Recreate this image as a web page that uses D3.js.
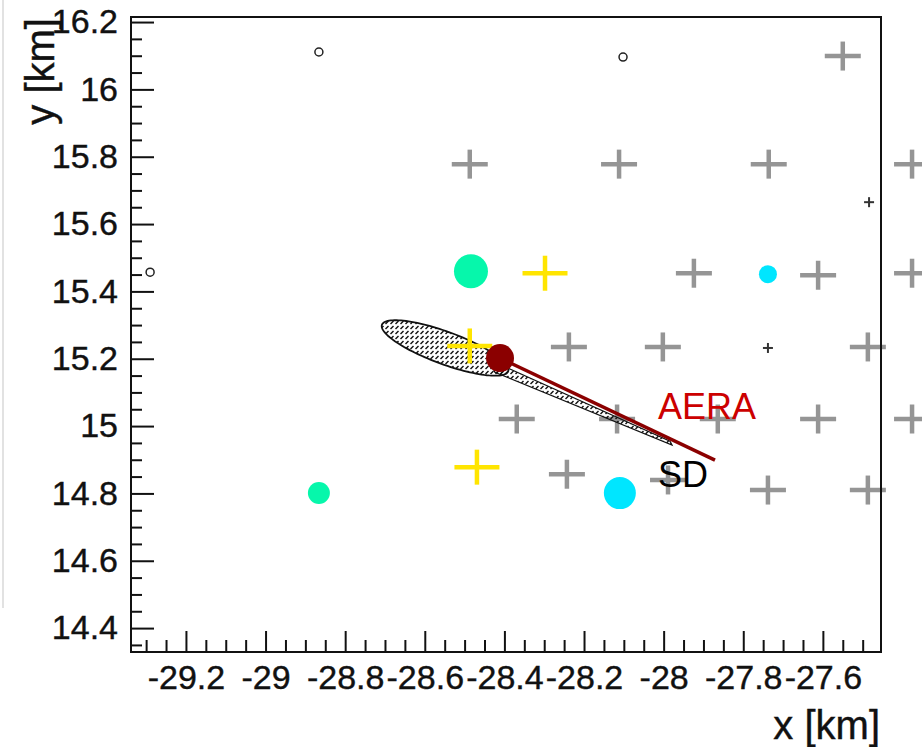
<!DOCTYPE html>
<html>
<head>
<meta charset="utf-8">
<script src="https://cdn.jsdelivr.net/npm/d3@7"></script>
<style>
  body { margin: 0; background: #fff; }
  text { font-family: "Liberation Sans", Arial, sans-serif; }
</style>
</head>
<body>
<div id="plot"></div>
<script>
// axis ticks (ROOT prints a plain hyphen as minus sign)
var xMajorTicks = [-29.2, -29, -28.8, -28.6, -28.4, -28.2, -28, -27.8, -27.6]
var xTickLabels = ["-29.2", "-29", "-28.8", "-28.6", "-28.4", "-28.2", "-28", "-27.8", "-27.6"]
var yMajorTicks = [14.4, 14.6, 14.8, 15, 15.2, 15.4, 15.6, 15.8, 16, 16.2]
var yTickLabels = ["14.4", "14.6", "14.8", "15", "15.2", "15.4", "15.6", "15.8", "16", "16.2"]

// detector stations [x km, y km]
var grayStations = [
  [-27.550, 16.099],
  [-28.487, 15.778], [-28.112, 15.778], [-27.736, 15.778], [-27.376, 15.778],
  [-27.924, 15.454], [-27.612, 15.448], [-27.376, 15.454],
  [-28.238, 15.235], [-28.002, 15.235], [-27.487, 15.235],
  [-28.369, 15.021], [-28.117, 15.021], [-27.864, 15.021], [-27.612, 15.021], [-27.376, 15.021],
  [-28.243, 14.857], [-27.989, 14.840], [-27.738, 14.810], [-27.487, 14.810]
]
var yellowStations = [[-28.298, 15.454], [-28.487, 15.238], [-28.469, 14.878]]
var tealStations = [[-28.484, 15.460, 17], [-28.866, 14.801, 11]]     // x, y, radius px
var cyanStations = [[-27.738, 15.451, 9], [-28.110, 14.801, 16]]
var openCircles = [[-28.866, 16.111], [-28.102, 16.096], [-29.290, 15.457]]
var smallCrosses = [[-27.484, 15.665], [-27.738, 15.232]]

// reconstructed core and axis
var aeraCore = [-28.411, 15.202]
var aeraAxisEnd = [-27.871, 14.899]
var sdEllipse = { cx: -28.549, cy: 15.232, a: 0.173, b: 0.047, angle: -24 }
var sdAxis = [[-28.436, 15.196], [-27.984, 14.955], [-27.979, 14.944], [-28.424, 15.160]]
var textLabels = [
  { text: "AERA", x: -28.014, y: 15.021, color: "#cc0000" },
  { text: "SD", x: -28.014, y: 14.819, color: "#000000" }
]

var width = 922, height = 747
var svg = d3.select("#plot").append("svg")
    .attr("width", width)
    .attr("height", height)

var x = d3.scaleLinear().domain([-29.338, -27.454]).range([131, 881])
var y = d3.scaleLinear().domain([14.329, 16.215]).range([652, 17])

// faint canvas border on the left
svg.append("line")
    .attr("x1", 3).attr("x2", 3).attr("y1", 0).attr("y2", 608)
    .attr("stroke", "#d8d8d8").attr("stroke-width", 1.5)

// hatch pattern for the SD ellipse
var defs = svg.append("defs")
var pat = defs.append("pattern")
    .attr("id", "hatch")
    .attr("patternUnits", "userSpaceOnUse")
    .attr("width", 5).attr("height", 5)
pat.append("path")
    .attr("d", "M0.5,4 L3.5,1")
    .attr("stroke", "#111").attr("stroke-width", 1.4)

/**
 * Draw "+" markers
 */
function drawCrosses(data, w, h, color, sw) {
    var g = svg.append("g")
    data.forEach(function(d) {
        var cx = x(d[0]), cy = y(d[1])
        g.append("line").attr("x1", cx - w / 2).attr("x2", cx + w / 2)
            .attr("y1", cy).attr("y2", cy)
            .attr("stroke", color).attr("stroke-width", sw)
        g.append("line").attr("x1", cx).attr("x2", cx)
            .attr("y1", cy - h / 2).attr("y2", cy + h / 2)
            .attr("stroke", color).attr("stroke-width", sw)
    })
}

drawCrosses(grayStations, 36, 29, "#959595", 4.5)

// SD ellipse
var th = sdEllipse.angle * Math.PI / 180
var ellipsePts = d3.range(0, 361, 3).map(function(t) {
    var r = t * Math.PI / 180
    var ex = sdEllipse.a * Math.cos(r), ey = sdEllipse.b * Math.sin(r)
    return [sdEllipse.cx + ex * Math.cos(th) - ey * Math.sin(th),
            sdEllipse.cy + ex * Math.sin(th) + ey * Math.cos(th)]
})
var line = d3.line().x(function(d) { return x(d[0]) }).y(function(d) { return y(d[1]) })
svg.append("path")
    .attr("d", line(ellipsePts) + "Z")
    .attr("fill", "url(#hatch)")
    .attr("stroke", "#111").attr("stroke-width", 1.8)

// SD axis
svg.append("path")
    .attr("d", line(sdAxis) + "Z")
    .attr("fill", "url(#hatch)")
    .attr("stroke", "#111").attr("stroke-width", 1.2)

drawCrosses(yellowStations, 45, 35, "#ffe500", 4.5)

svg.append("g").selectAll("circle").data(tealStations).join("circle")
    .attr("cx", function(d) { return x(d[0]) })
    .attr("cy", function(d) { return y(d[1]) })
    .attr("r", function(d) { return d[2] })
    .attr("fill", "#06f7ab")

svg.append("g").selectAll("circle").data(cyanStations).join("circle")
    .attr("cx", function(d) { return x(d[0]) })
    .attr("cy", function(d) { return y(d[1]) })
    .attr("r", function(d) { return d[2] })
    .attr("fill", "#00e6ff")

svg.append("g").selectAll("circle").data(openCircles).join("circle")
    .attr("cx", function(d) { return x(d[0]) })
    .attr("cy", function(d) { return y(d[1]) })
    .attr("r", 4)
    .attr("fill", "none")
    .attr("stroke", "#222").attr("stroke-width", 1.5)

drawCrosses(smallCrosses, 10, 10, "#333", 2)

// AERA axis and core
svg.append("path")
    .attr("d", line([aeraCore, aeraAxisEnd]))
    .attr("stroke", "#8b0000").attr("stroke-width", 3.5)
svg.append("circle")
    .attr("cx", x(aeraCore[0])).attr("cy", y(aeraCore[1]))
    .attr("r", 14).attr("fill", "#8b0000")

svg.append("g").selectAll("text").data(textLabels).join("text")
    .attr("x", function(d) { return x(d.x) })
    .attr("y", function(d) { return y(d.y) })
    .attr("font-size", 36)
    .attr("fill", function(d) { return d.color })
    .text(function(d) { return d.text })

// axes
var xMinor = d3.range(-29.3, -27.47, 0.05).filter(function(v) {
    return xMajorTicks.every(function(m) { return Math.abs(m - v) > 1e-6 })
})
var yMinor = d3.range(14.35, 16.21, 0.05).filter(function(v) {
    return yMajorTicks.every(function(m) { return Math.abs(m - v) > 1e-6 })
})

var xAxisG = svg.append("g").attr("transform", "translate(0,652)")
xAxisG.call(d3.axisBottom(x).tickValues(xMajorTicks).tickSize(-21).tickPadding(13)
    .tickFormat(function(d, i) { return xTickLabels[i] }))
svg.append("g").attr("transform", "translate(0,652)")
    .call(d3.axisBottom(x).tickValues(xMinor).tickSize(-12).tickFormat(""))

var yAxisG = svg.append("g").attr("transform", "translate(131,0)")
yAxisG.call(d3.axisLeft(y).tickValues(yMajorTicks).tickSize(-23).tickPadding(13)
    .tickFormat(function(d, i) { return yTickLabels[i] }))
svg.append("g").attr("transform", "translate(131,0)")
    .call(d3.axisLeft(y).tickValues(yMinor).tickSize(-11).tickFormat(""))

svg.selectAll(".domain").remove()
svg.selectAll(".tick line").attr("stroke", "#111").attr("stroke-width", 2)
svg.selectAll(".tick text")
    .attr("font-size", 34)
    .attr("font-family", "'Liberation Sans', Arial, sans-serif")
    .attr("fill", "#111")
    .attr("stroke", "#111").attr("stroke-width", 0.4)

// frame
svg.append("rect")
    .attr("x", x.range()[0]).attr("y", y.range()[1])
    .attr("width", x.range()[1] - x.range()[0])
    .attr("height", y.range()[0] - y.range()[1])
    .attr("fill", "none")
    .attr("stroke", "#111").attr("stroke-width", 2)

// axis titles
svg.append("text")
    .attr("x", 880).attr("y", 739)
    .attr("text-anchor", "end")
    .attr("font-size", 40).attr("fill", "#111")
    .attr("stroke", "#111").attr("stroke-width", 0.4)
    .text("x [km]")
svg.append("text")
    .attr("transform", "translate(54,18) rotate(-90)")
    .attr("text-anchor", "end")
    .attr("font-size", 40).attr("fill", "#111")
    .attr("stroke", "#111").attr("stroke-width", 0.4)
    .text("y [km]")
</script>
</body>
</html>
